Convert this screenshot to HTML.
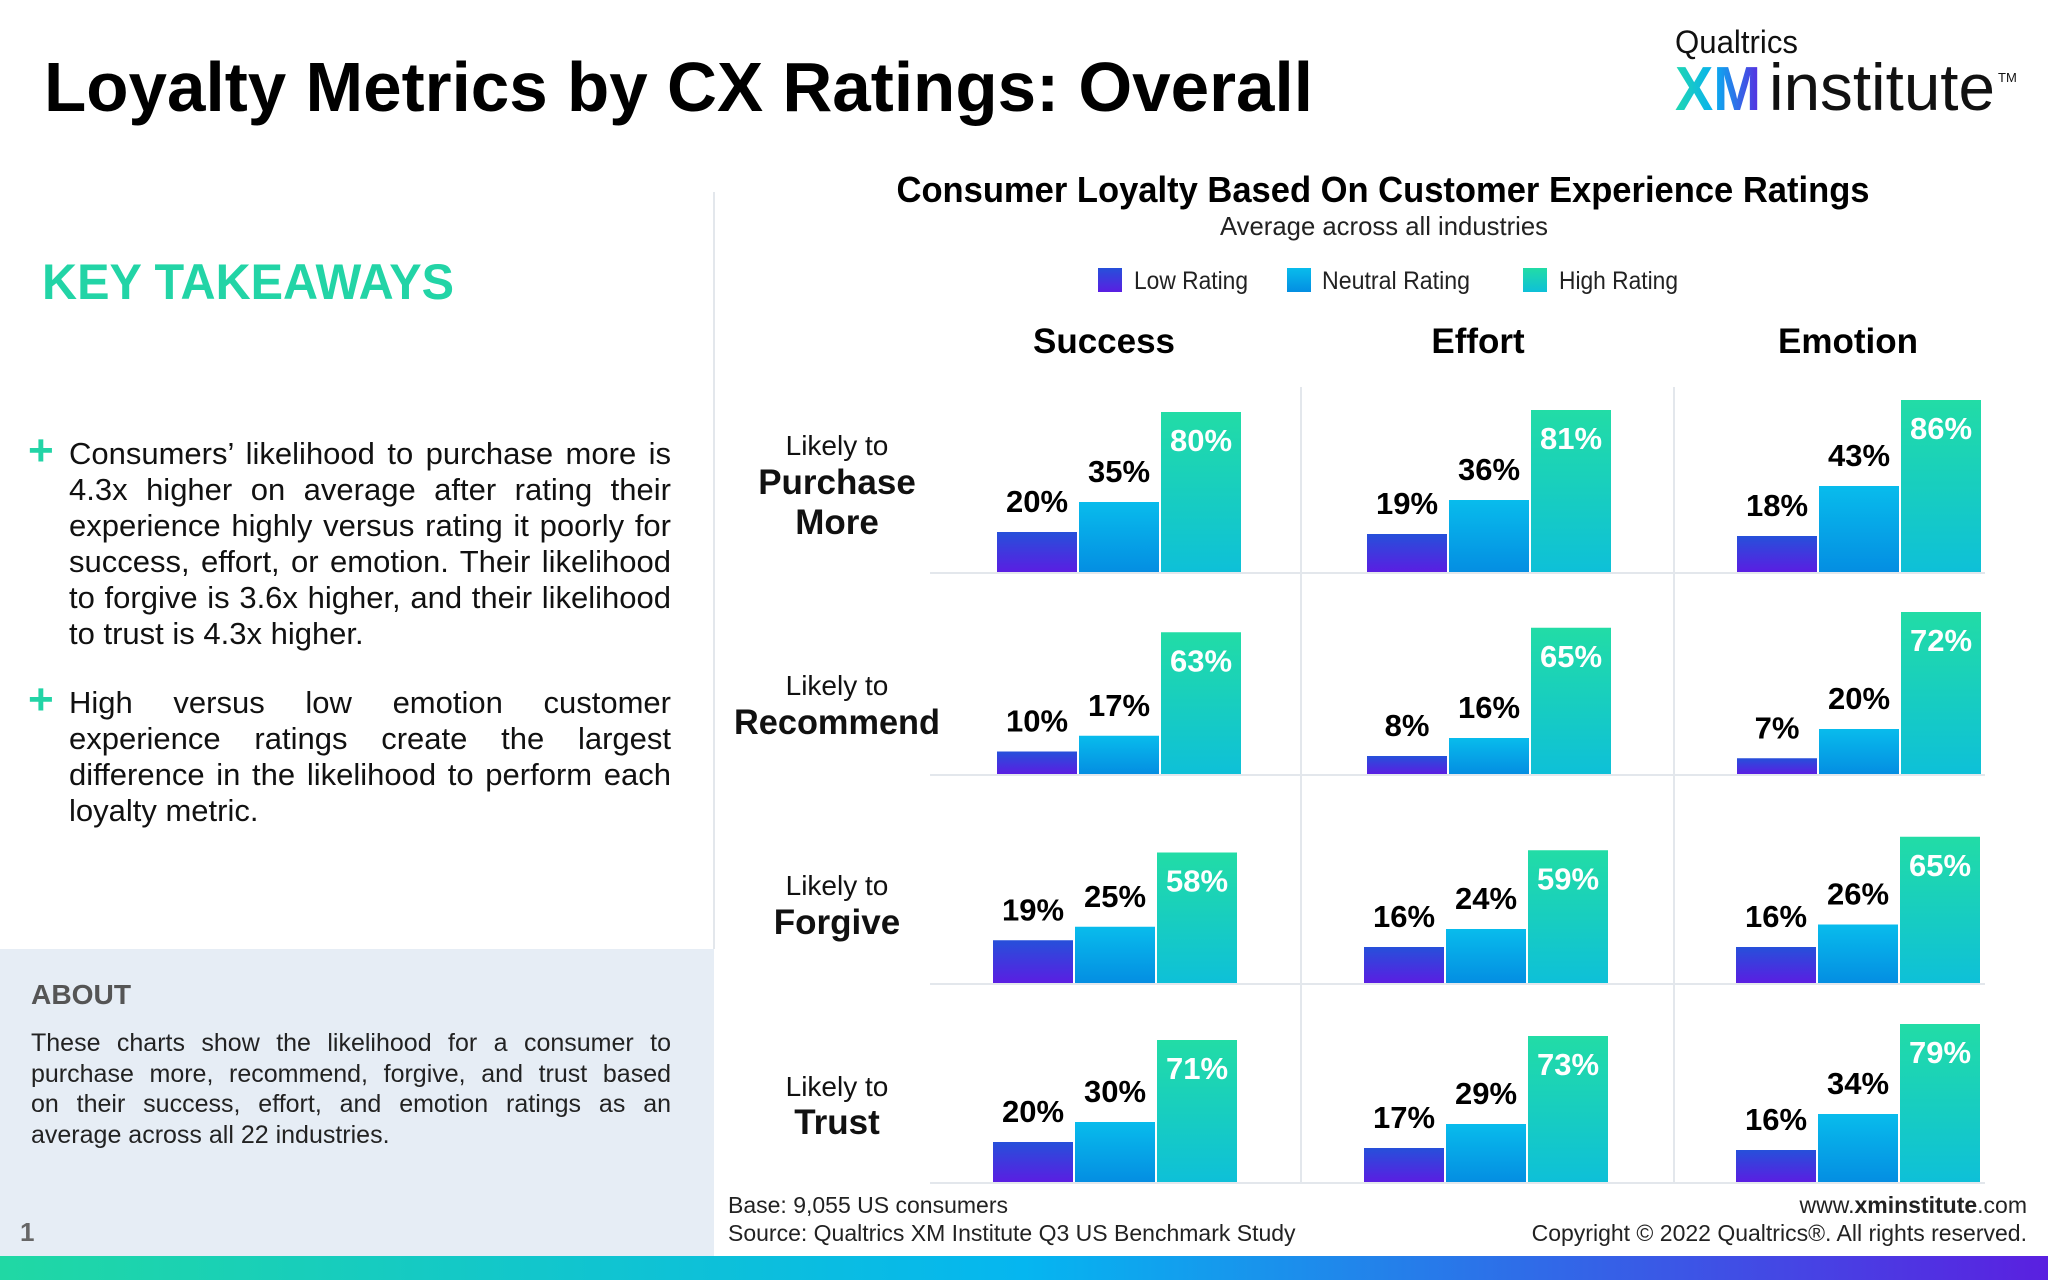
<!DOCTYPE html>
<html><head><meta charset="utf-8"><style>
html,body{margin:0;padding:0;background:#fff;}
svg{display:block;font-family:"Liberation Sans",sans-serif;}
.p{position:absolute;font-family:"Liberation Sans",sans-serif;color:#111;white-space:nowrap;}
.p div{text-align:justify;text-align-last:justify;}
.p div.l{text-align-last:left;}
</style></head><body>
<div style="position:relative;width:2048px;height:1280px;overflow:hidden;">
<svg width="2048" height="1280" viewBox="0 0 2048 1280" xmlns="http://www.w3.org/2000/svg">
<defs>
<linearGradient id="gl" x1="0" y1="0" x2="0" y2="1"><stop offset="0" stop-color="#2650da"/><stop offset="1" stop-color="#5a1ee2"/></linearGradient>
<linearGradient id="gn" x1="0" y1="0" x2="0" y2="1"><stop offset="0" stop-color="#08bcec"/><stop offset="1" stop-color="#048ee2"/></linearGradient>
<linearGradient id="gh" x1="0" y1="0" x2="0" y2="1"><stop offset="0" stop-color="#22dca6"/><stop offset="1" stop-color="#0ec0d8"/></linearGradient>
<linearGradient id="gb" x1="0" y1="0" x2="1" y2="0"><stop offset="0" stop-color="#20d8a4"/><stop offset="0.5" stop-color="#05b6f0"/><stop offset="1" stop-color="#5a20e0"/></linearGradient>
<linearGradient id="gxm" x1="0" y1="0" x2="1" y2="0"><stop offset="0" stop-color="#20d8b0"/><stop offset="0.45" stop-color="#08b0f0"/><stop offset="1" stop-color="#5a2ae0"/></linearGradient>
</defs>
<rect width="2048" height="1280" fill="#fff"/>
<rect x="0" y="949" width="714" height="307" fill="#e6edf5"/>
<line x1="714" y1="192" x2="714" y2="949" stroke="#e3e7ec" stroke-width="2"/>
<rect x="0" y="1256" width="2048" height="24" fill="url(#gb)"/>

<text x="44" y="111" font-size="70" font-weight="bold" fill="#000" textLength="1269" lengthAdjust="spacingAndGlyphs">Loyalty Metrics by CX Ratings: Overall</text>

<text x="1675" y="53" font-size="32" fill="#111" textLength="123" lengthAdjust="spacingAndGlyphs">Qualtrics</text>
<text x="1675" y="110" font-size="62" font-weight="bold" fill="url(#gxm)" textLength="86" lengthAdjust="spacingAndGlyphs">XM</text>
<text x="1769" y="110" font-size="66" fill="#111" textLength="226" lengthAdjust="spacingAndGlyphs">institute</text>
<text x="1998" y="82" font-size="13" fill="#111">TM</text>

<text x="42" y="299" font-size="50" font-weight="bold" fill="#22d4a6" textLength="412" lengthAdjust="spacingAndGlyphs">KEY TAKEAWAYS</text>

<text x="28" y="465" font-size="44" font-weight="bold" fill="#22d4a6">+</text>
<text x="28" y="714" font-size="44" font-weight="bold" fill="#22d4a6">+</text>

<text x="31" y="1004" font-size="28" font-weight="bold" fill="#555" textLength="100" lengthAdjust="spacingAndGlyphs">ABOUT</text>
<text x="20" y="1241" font-size="26" font-weight="bold" fill="#666">1</text>

<text x="1383" y="202" font-size="36" font-weight="bold" text-anchor="middle" textLength="973" lengthAdjust="spacingAndGlyphs">Consumer Loyalty Based On Customer Experience Ratings</text>
<text x="1384" y="235" font-size="26" fill="#222" text-anchor="middle" textLength="328" lengthAdjust="spacingAndGlyphs">Average across all industries</text>

<rect x="1098" y="268" width="24" height="24" fill="url(#gl)"/>
<rect x="1287" y="268" width="24" height="24" fill="url(#gn)"/>
<rect x="1523" y="268" width="24" height="24" fill="url(#gh)"/>
<g font-size="25" fill="#222">
<text x="1134" y="289" textLength="114" lengthAdjust="spacingAndGlyphs">Low Rating</text>
<text x="1322" y="289" textLength="148" lengthAdjust="spacingAndGlyphs">Neutral Rating</text>
<text x="1559" y="289" textLength="119" lengthAdjust="spacingAndGlyphs">High Rating</text>
</g>

<g font-size="35" font-weight="bold" text-anchor="middle">
<text x="1104" y="353">Success</text>
<text x="1478" y="353">Effort</text>
<text x="1848" y="353">Emotion</text>
</g>

<g text-anchor="middle" fill="#111">
<text x="837" y="455" font-size="28">Likely to</text>
<text x="837" y="494" font-size="35" font-weight="bold">Purchase</text>
<text x="837" y="534" font-size="35" font-weight="bold">More</text>
<text x="837" y="695" font-size="28">Likely to</text>
<text x="837" y="734" font-size="35" font-weight="bold" textLength="206" lengthAdjust="spacingAndGlyphs">Recommend</text>
<text x="837" y="895" font-size="28">Likely to</text>
<text x="837" y="934" font-size="35" font-weight="bold">Forgive</text>
<text x="837" y="1096" font-size="28">Likely to</text>
<text x="837" y="1134" font-size="35" font-weight="bold">Trust</text>
</g>

<g stroke="#e3e7ec" stroke-width="2">
<line x1="930" y1="573" x2="1985" y2="573"/>
<line x1="930" y1="775" x2="1985" y2="775"/>
<line x1="930" y1="984" x2="1985" y2="984"/>
<line x1="930" y1="1183" x2="1985" y2="1183"/>
<line x1="1301" y1="387" x2="1301" y2="1183"/>
<line x1="1674" y1="387" x2="1674" y2="1183"/>
</g>

<g id="bars"></g>

<g font-size="23" fill="#222">
<text x="728" y="1213">Base: 9,055 US consumers</text>
<text x="728" y="1241">Source: Qualtrics XM Institute Q3 US Benchmark Study</text>
<text x="2027" y="1213" text-anchor="end">www.<tspan font-weight="bold">xminstitute</tspan>.com</text>
<text x="2027" y="1241" text-anchor="end">Copyright © 2022 Qualtrics®. All rights reserved.</text>
</g>
</svg>
<div class="p" style="left:69px;top:436px;width:602px;font-size:31px;line-height:36px;">
<div>Consumers’ likelihood to purchase more is</div>
<div>4.3x higher on average after rating their</div>
<div>experience highly versus rating it poorly for</div>
<div>success, effort, or emotion. Their likelihood</div>
<div>to forgive is 3.6x higher, and their likelihood</div>
<div class="l">to trust is 4.3x higher.</div>
</div>
<div class="p" style="left:69px;top:685px;width:602px;font-size:31px;line-height:36px;">
<div>High versus low emotion customer</div>
<div>experience ratings create the largest</div>
<div>difference in the likelihood to perform each</div>
<div class="l">loyalty metric.</div>
</div>
<div class="p" style="left:31px;top:1028px;width:640px;font-size:25px;line-height:30.7px;color:#222;">
<div>These charts show the likelihood for a consumer to</div>
<div>purchase more, recommend, forgive, and trust based</div>
<div>on their success, effort, and emotion ratings as an</div>
<div class="l">average across all 22 industries.</div>
</div>
</div>
<script>
var data=[[[20,35,80],[19,36,81],[18,43,86]],[[10,17,63],[8,16,65],[7,20,72]],[[19,25,58],[16,24,59],[16,26,65]],[[20,30,71],[17,29,73],[16,34,79]]];
var base=[572,774,983,1182],sc=[2,2.25,2.25,2];
var starts=[[997,1367,1737],[997,1367,1737],[993,1364,1736],[993,1364,1736]];
var fills=["url(#gl)","url(#gn)","url(#gh)"];
var h="";
for(var r=0;r<4;r++)for(var c=0;c<3;c++)for(var k=0;k<3;k++){
 var v=data[r][c][k],hh=v*sc[r],x=starts[r][c]+k*82,y=base[r]-hh;
 h+='<rect x="'+x+'" y="'+y+'" width="80" height="'+hh+'" fill="'+fills[k]+'"/>';
 if(k<2)h+='<text x="'+(x+40)+'" y="'+(y-20)+'" font-size="31" font-weight="bold" text-anchor="middle" fill="#000">'+v+'%</text>';
 else h+='<text x="'+(x+40)+'" y="'+(y+39)+'" font-size="31" font-weight="bold" text-anchor="middle" fill="#fff">'+v+'%</text>';
}
document.getElementById("bars").innerHTML=h;
</script>
</body></html>
